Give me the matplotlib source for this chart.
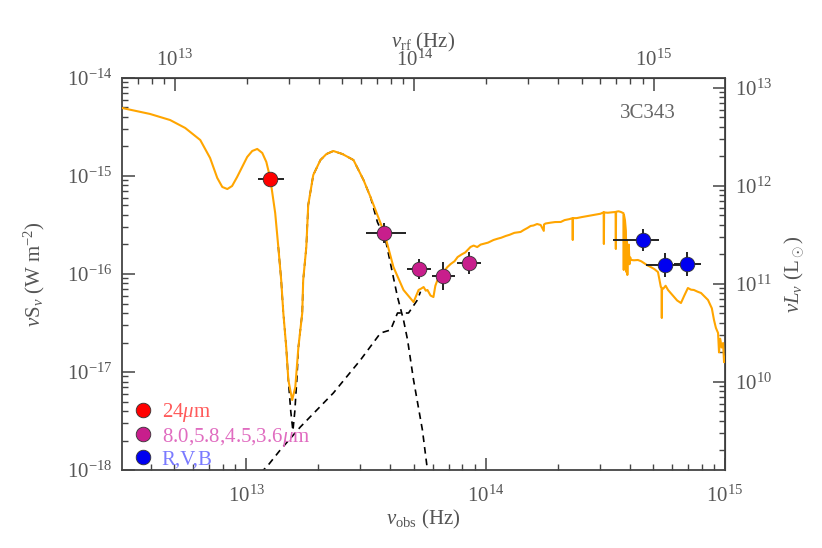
import numpy as np
import matplotlib
matplotlib.use('Agg')
import matplotlib.pyplot as plt
from matplotlib.lines import Line2D
from matplotlib.ticker import LogLocator, NullFormatter

plt.rcParams['font.family'] = ['Liberation Serif', 'DejaVu Serif']
plt.rcParams['mathtext.fontset'] = 'custom'
plt.rcParams['mathtext.rm'] = 'Liberation Serif'
plt.rcParams['mathtext.it'] = 'Liberation Serif:italic'

z = 0.988          # redshift, obs -> rest frame
lum_offset = 27.1  # log10(4 pi D_L^2 / L_sun)

# total model (orange), log10 nu_obs / log10 nuS_nu
tot_lx = [12.481, 12.598, 12.682, 12.745, 12.808, 12.849, 12.879, 12.900, 12.921, 12.941, 12.962,
          13.004, 13.025, 13.046, 13.067, 13.084, 13.100, 13.121, 13.134, 13.146, 13.155, 13.167,
          13.176, 13.192, 13.205, 13.218, 13.234, 13.238, 13.251, 13.259, 13.280, 13.310, 13.335,
          13.364, 13.402, 13.448, 13.490, 13.519, 13.548, 13.577,
          13.615, 13.657, 13.699, 13.710, 13.720, 13.730, 13.741, 13.750, 13.757, 13.770, 13.782,
          13.790, 13.799, 13.810, 13.824, 13.840, 13.854, 13.870, 13.883, 13.900, 13.915, 13.937,
          13.950, 13.965, 13.979, 13.995, 14.010, 14.033, 14.050, 14.065, 14.084, 14.100, 14.120,
          14.146, 14.160, 14.175, 14.188, 14.200, 14.215, 14.230, 14.243, 14.244, 14.250, 14.272,
          14.290, 14.314, 14.330, 14.350, 14.363, 14.364, 14.365, 14.380, 14.400, 14.427, 14.445,
          14.465, 14.480, 14.493, 14.494, 14.495, 14.510, 14.530, 14.543, 14.544, 14.545, 14.555,
          14.565, 14.576, 14.577, 14.578, 14.582, 14.586, 14.588, 14.590, 14.592, 14.594, 14.598,
          14.601, 14.604, 14.607, 14.620, 14.636, 14.650, 14.661, 14.675, 14.690, 14.705, 14.720,
          14.732, 14.735, 14.736, 14.737, 14.742, 14.752, 14.762, 14.775, 14.787, 14.800, 14.816,
          14.830, 14.845, 14.858, 14.870, 14.885, 14.900, 14.915, 14.929, 14.945, 14.954, 14.962,
          14.971, 14.975, 14.980, 14.986, 14.992, 14.996, 15.000]
tot_ly = [-14.306, -14.367, -14.429, -14.510, -14.633, -14.816, -15.020, -15.112, -15.133, -15.102, -15.010,
          -14.806, -14.745, -14.724, -14.765, -14.857, -15.020, -15.378, -15.724, -16.061, -16.398, -16.745,
          -17.082, -17.286, -17.153, -16.745, -16.398, -16.061, -15.724, -15.296, -14.990, -14.837, -14.776,
          -14.745, -14.776, -14.837, -15.041, -15.214, -15.398, -15.582,
          -15.929, -16.163, -16.286, -16.220, -16.163, -16.150, -16.133, -16.170, -16.163, -16.220, -16.235,
          -16.120, -16.061, -16.030, -15.980, -15.930, -15.898, -15.870, -15.827, -15.800, -15.780, -15.724,
          -15.710, -15.725, -15.700, -15.690, -15.680, -15.653, -15.640, -15.630, -15.612, -15.600, -15.580,
          -15.571, -15.550, -15.530, -15.510, -15.505, -15.490, -15.500, -15.560, -15.495, -15.485, -15.476,
          -15.470, -15.469, -15.450, -15.440, -15.430, -15.653, -15.430, -15.430, -15.420, -15.408, -15.400,
          -15.390, -15.385, -15.370, -15.694, -15.372, -15.375, -15.370, -15.367, -15.745, -15.365, -15.360,
          -15.367, -15.380, -15.959, -15.400, -15.449, -15.560, -15.980, -15.653, -16.010, -15.786, -15.700,
          -15.900, -15.830, -15.857, -15.860, -15.857, -15.870, -15.888, -15.910, -15.929, -15.950, -15.980,
          -16.133, -16.140, -16.449, -16.150, -16.150, -16.120, -16.163, -16.200, -16.235, -16.270, -16.296,
          -16.220, -16.143, -16.160, -16.163, -16.180, -16.194, -16.230, -16.265, -16.350, -16.469, -16.550,
          -16.602, -16.800, -16.660, -16.750, -16.704, -16.900, -16.847]

# torus / dust component (dashed)
dust_lx = [13.134, 13.146, 13.155, 13.167, 13.176, 13.186, 13.195, 13.203, 13.212, 13.218, 13.234,
           13.238, 13.251, 13.259, 13.280, 13.310, 13.335, 13.364, 13.402, 13.448, 13.490, 13.519,
           13.548, 13.582, 13.632, 13.657, 13.674, 13.699, 13.736, 13.757, 13.780]
dust_ly = [-15.724, -16.061, -16.398, -16.745, -17.082, -17.400, -17.600, -17.400, -17.050, -16.745, -16.398,
           -16.061, -15.724, -15.296, -14.990, -14.837, -14.776, -14.745, -14.776, -14.837, -15.041, -15.214,
           -15.470, -15.653, -16.235, -16.469, -16.673, -17.082, -17.592, -18.000, -18.300]

# host galaxy stellar component (dashed)
star_lx = [13.060, 13.092, 13.142, 13.226, 13.364, 13.477, 13.561, 13.603, 13.632, 13.678,
           13.715, 13.728]
star_ly = [-18.030, -17.949, -17.796, -17.561, -17.214, -16.878, -16.602, -16.571, -16.398, -16.398,
           -16.265, -16.180]

# photometry: log nu_obs, log nuS_nu, errors in dex
mips_lx, mips_ly = [13.100], [-15.031]
mips_xlo, mips_xhi = [0.050], [0.059]

irac_lx = [13.577, 13.720, 13.824, 13.929]
irac_ly = [-15.582, -15.949, -16.020, -15.888]
irac_xlo = [0.075, 0.050, 0.050, 0.050]
irac_xhi = [0.092, 0.050, 0.050, 0.050]
irac_ye = [0.10, 0.10, 0.14, 0.11]

opt_lx = [14.657, 14.749, 14.841]
opt_ly = [-15.653, -15.908, -15.898]
opt_xlo = [0.126, 0.080, 0.055]
opt_xhi = [0.067, 0.067, 0.060]
opt_ye = [0.11, 0.12, 0.12]

legend_labels = ['24$\\mu$m', '8.0,5.8,4.5,3.6$\\mu$m', 'R,V,B']
legend_text_colors = ['#ff5a5a', '#e06cc0', '#7a7aff']

gray = '#555555'


def errs(lx, lo, hi):
    x = 10.0 ** np.array(lx)
    return [x - x * 10.0 ** (-np.array(lo)), x * 10.0 ** np.array(hi) - x]


fig = plt.figure(figsize=(8.22, 5.48), dpi=100)
ax = fig.add_axes([0.1484, 0.1423, 0.7336, 0.7154])

ax.plot(10.0 ** np.array(star_lx), 10.0 ** np.array(star_ly), ls=(0, (4, 3)), color='black', lw=1.2, zorder=2)
ax.plot(10.0 ** np.array(dust_lx), 10.0 ** np.array(dust_ly), ls=(0, (4, 3)), color='black', lw=1.2, zorder=2)
ax.plot(10.0 ** np.array(tot_lx), 10.0 ** np.array(tot_ly), color='orange', lw=1.5, zorder=3)

ekw = dict(fmt='o', ms=10.5, mec='#333333', mew=0.6, ecolor='#222222', elinewidth=1.4, capsize=0, zorder=5)
ax.errorbar(10.0 ** np.array(mips_lx), 10.0 ** np.array(mips_ly), xerr=errs(mips_lx, mips_xlo, mips_xhi),
            mfc='red', **ekw)
ax.errorbar(10.0 ** np.array(irac_lx), 10.0 ** np.array(irac_ly), xerr=errs(irac_lx, irac_xlo, irac_xhi),
            yerr=errs(irac_ly, irac_ye, irac_ye), mfc='#c81e8c', **ekw)
ax.errorbar(10.0 ** np.array(opt_lx), 10.0 ** np.array(opt_ly), xerr=errs(opt_lx, opt_xlo, opt_xhi),
            yerr=errs(opt_ly, opt_ye, opt_ye), mfc='#0000f0', **ekw)

ax.set_xscale('log')
ax.set_yscale('log')
ax.set_xlim(10 ** 12.481, 1e15)
ax.set_ylim(1e-18, 1e-14)

for sp in ax.spines.values():
    sp.set_color('#444444')
    sp.set_linewidth(1.3)

ax.tick_params(which='major', direction='in', length=9, width=1.1, color='#444444',
               labelcolor=gray, labelsize=15, top=False, right=False, pad=7)
ax.tick_params(axis='x', which='major', pad=11)
ax.tick_params(which='minor', direction='in', length=4.5, width=1.0, color='#444444', top=False, right=False)
ax.yaxis.set_minor_locator(LogLocator(base=10, subs=np.arange(2, 10)))
ax.yaxis.set_minor_formatter(NullFormatter())

ax.set_xlabel(r'$\nu_{\rm obs}$ (Hz)', fontsize=15, color=gray, labelpad=1)
ax.set_ylabel(r'$\nu$S$_\nu$ (W m$^{-2}$)', fontsize=15, color=gray, labelpad=14)

top = ax.secondary_xaxis('top', functions=(lambda x: x * (1 + z), lambda x: x / (1 + z)))
top.set_xscale('log')
top.tick_params(which='major', direction='in', length=9, width=1.1, color='#444444',
                labelcolor=gray, labelsize=15, pad=5)
top.tick_params(which='minor', direction='in', length=4.5, width=1.0, color='#444444')
top.set_xlabel(r'$\nu_{\rm rf}$ (Hz)', fontsize=15, color=gray, labelpad=2)

right = ax.secondary_yaxis('right', functions=(lambda y: y * 10 ** lum_offset, lambda y: y / 10 ** lum_offset))
right.set_yscale('log')
right.yaxis.set_minor_locator(LogLocator(base=10, subs=np.arange(2, 10)))
right.yaxis.set_minor_formatter(NullFormatter())
right.tick_params(which='major', direction='in', length=9, width=1.1, color='#444444',
                  labelcolor=gray, labelsize=15, pad=7)
right.tick_params(which='minor', direction='in', length=4.5, width=1.0, color='#444444')
right.set_ylabel(r'$\nu L_\nu$ (L$_\odot$)', fontsize=15, color=gray, labelpad=8)

ax.text(0.872, 0.91, '3C343', transform=ax.transAxes, fontsize=15, color='#666666', ha='center', va='center')

handles = [Line2D([], [], ls='none', marker='o', ms=10.5, mfc=c, mec='#333333', mew=0.6)
           for c in ['red', '#c81e8c', '#0000f0']]
leg = ax.legend(handles, legend_labels, loc='lower left', bbox_to_anchor=(-0.003, -0.035), frameon=False,
                fontsize=15, handlelength=0.8, handletextpad=0.5, labelspacing=0.05, borderaxespad=0.3)
for t, c in zip(leg.get_texts(), legend_text_colors):
    t.set_color(c)

fig.savefig('out.png', dpi=100)
